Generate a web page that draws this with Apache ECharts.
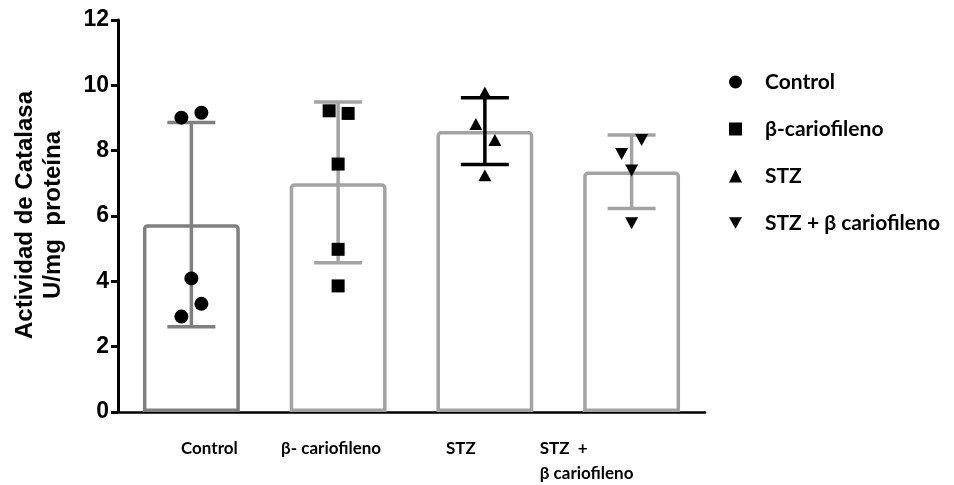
<!DOCTYPE html>
<html><head><meta charset="utf-8">
<script src="https://cdn.jsdelivr.net/npm/echarts@6/dist/echarts.min.js"></script>
<style>html,body{margin:0;padding:0;background:#fff}#c{width:954px;height:485px}</style>
</head><body><div id="c"></div>
<script>
const categories = ['Control', 'β- cariofileno', 'STZ', 'STZ  +\nβ cariofileno'];
const seriesNames = ['Control', 'β-cariofileno', 'STZ', 'STZ + β cariofileno'];
const means = [5.75, 7.0, 8.6, 7.36];
const errLow = [2.61, 4.57, 7.58, 6.23];
const errHigh = [8.86, 9.49, 9.62, 8.48];
const pointsControl = [9.01, 9.16, 4.09, 3.31, 2.92];
const pointsBeta = [9.22, 9.14, 7.59, 4.98, 3.86];
const pointsSTZ = [9.78, 8.82, 8.33, 7.25];
const pointsSTZBeta = [8.33, 7.90, 7.39, 5.78];
const yTicks = [0, 2, 4, 6, 8, 10, 12];

// styling (jitter offsets in px, label shifts, colours)
const jitter = [[-10, 10, 0, 10, -10], [-9, 10, 0, 0, 0], [0, -9, 10, 0], [10, -10, 0, 0]];
const labelPad = [[0, 0, 0, 36], [0, 14, 0, 0], [0, 48, 0, 0], [0, 90, 0, 0]];
const barColors = ['#808080', '#a3a3a3', '#a3a3a3', '#a3a3a3'];
const errColors = ['#808080', '#a3a3a3', '#000000', '#a3a3a3'];
const symbols = ['circle', 'rect', 'triangle', 'path://M0,0 L10,0 L5,9 Z'];
const symSizes = [14, 13, [13, 12], [13, 12]];

const allPoints = [pointsControl, pointsBeta, pointsSTZ, pointsSTZBeta];

const chart = echarts.init(document.getElementById('c'));
const scatterSeries = allPoints.map((pts, gi) => ({
  name: seriesNames[gi],
  type: 'scatter',
  symbol: symbols[gi],
  symbolSize: symSizes[gi],
  itemStyle: { color: '#000', opacity: 1 },
  z: 5,
  data: pts.map((v, i) => ({ value: [gi, v], symbolOffset: [jitter[gi][i], 0] }))
}));

const rich = {};
labelPad.forEach((p, i) => {
  rich['c' + i] = { fontFamily: 'Lato', fontWeight: 'bold', fontSize: 17, color: '#000', padding: p, lineHeight: 25, align: i === 3 ? 'left' : 'center' };
});

chart.setOption({
  animation: false,
  grid: { left: 118, top: 20, right: 249, bottom: 73 },
  xAxis: {
    type: 'category',
    data: categories,
    axisLine: { lineStyle: { color: '#000', width: 2.5 } },
    axisTick: { alignWithLabel: true, length: 6, lineStyle: { color: '#000', width: 2 } },
    axisLabel: {
      margin: 24,
      formatter: (v, idx) => v.split('\n').map(s => '{c' + idx + '|' + s + '}').join('\n'),
      rich: rich
    }
  },
  yAxis: {
    type: 'value', min: 0, max: 12, interval: 2,
    splitLine: { show: false },
    axisLine: { show: true, lineStyle: { color: '#000', width: 3 } },
    axisTick: { show: true, length: 7, lineStyle: { color: '#000', width: 3 } },
    axisLabel: { color: '#000', fontFamily: 'Liberation Sans', fontWeight: 'bold', fontSize: 23, margin: 9,
      formatter: v => yTicks.includes(v) ? String(v) : '' }
  },
  legend: {
    orient: 'vertical', left: 724, top: 65, itemGap: 23, itemWidth: 13, itemHeight: 13,
    data: seriesNames,
    itemStyle: { opacity: 1 },
    textStyle: { color: '#000', fontFamily: 'Lato', fontWeight: 'bold', fontSize: 21, lineHeight: 24, padding: [0, 0, 0, 18] }
  },
  graphic: [{
    type: 'text', x: 39, y: 215, rotation: Math.PI / 2,
    style: { text: 'Actividad de Catalasa\nU/mg  proteína', fill: '#000', font: 'bold 24px "Liberation Sans"',
      textAlign: 'center', textVerticalAlign: 'middle', lineHeight: 28 }
  }],
  series: [
    {
      type: 'bar', barWidth: '66%', silent: true, legendHoverLink: false,
      data: means.map((v, i) => ({ value: v, itemStyle: { color: '#fff', borderColor: barColors[i], borderWidth: 3.5, borderRadius: [3, 3, 0, 0] } })),
      z: 2
    },
    {
      type: 'custom', z: 4, silent: true,
      data: means.map((m, i) => [i, errLow[i], errHigh[i]]),
      renderItem: (params, api) => {
        const lo = api.coord([api.value(0), api.value(1)]);
        const hi = api.coord([api.value(0), api.value(2)]);
        const hw = 24;
        const c = errColors[params.dataIndex];
        const w = 3.5;
        return { type: 'group', children: [
          { type: 'line', shape: { x1: lo[0], y1: lo[1], x2: hi[0], y2: hi[1] }, style: { stroke: c, lineWidth: w } },
          { type: 'line', shape: { x1: lo[0] - hw, y1: lo[1], x2: lo[0] + hw, y2: lo[1] }, style: { stroke: c, lineWidth: w } },
          { type: 'line', shape: { x1: hi[0] - hw, y1: hi[1], x2: hi[0] + hw, y2: hi[1] }, style: { stroke: c, lineWidth: w } }
        ]};
      }
    },
    ...scatterSeries
  ]
});
</script></body></html>
